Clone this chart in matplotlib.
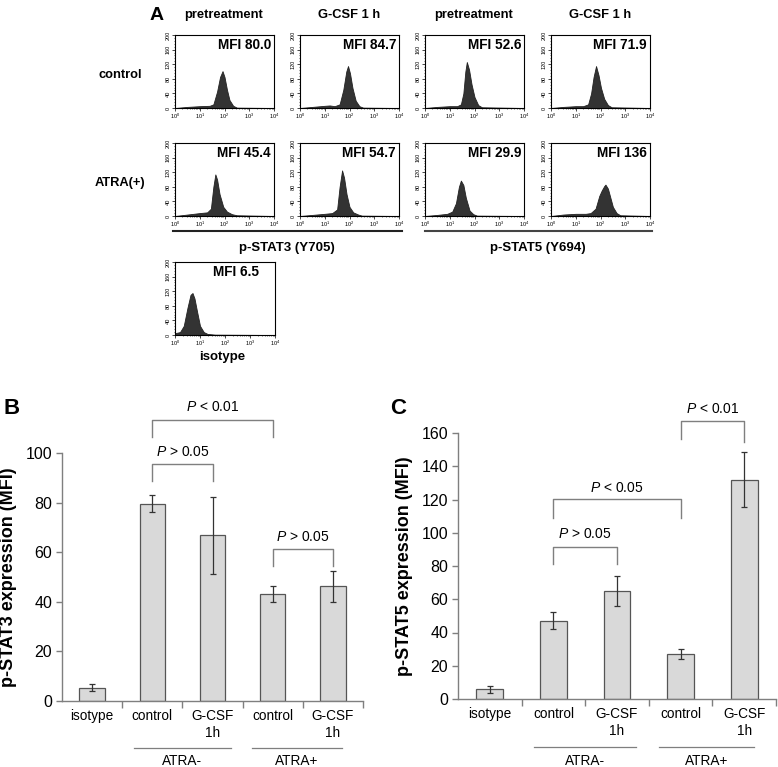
import numpy as np
import matplotlib
matplotlib.use("Agg")
import matplotlib.pyplot as plt
from matplotlib.ticker import MultipleLocator, FixedLocator, NullFormatter

plt.rcParams['font.family'] = ['Liberation Sans', 'DejaVu Sans']
plt.rcParams['mathtext.fontset'] = 'custom'
plt.rcParams['mathtext.rm'] = 'Liberation Sans'
plt.rcParams['mathtext.it'] = 'Liberation Sans:italic'

W, H = 778, 767

# ---------------- panel A: flow histograms (log10 intensity, counts) ----------------
hist_titles = ["pretreatment", "G-CSF 1 h", "pretreatment", "G-CSF 1 h"]
row_names = ["control", "ATRA(+)"]

ctrl_pre_s3_x = [0.0, 0.5, 1.0, 1.4, 1.55, 1.7, 1.82, 1.92, 2.0, 2.1, 2.2, 2.35, 2.5, 4.0]
ctrl_pre_s3_y = [0, 3, 5, 6, 10, 45, 85, 101, 85, 50, 22, 6, 1, 0]
ctrl_gcsf_s3_x = [0.0, 0.5, 1.0, 1.2, 1.4, 1.6, 1.75, 1.87, 1.94, 2.02, 2.12, 2.25, 2.4, 2.55, 4.0]
ctrl_gcsf_s3_y = [0, 3, 6, 7, 5, 10, 50, 100, 115, 95, 55, 20, 5, 1, 0]
ctrl_pre_s5_x = [0.0, 0.5, 1.0, 1.3, 1.45, 1.55, 1.63, 1.69, 1.78, 1.88, 2.0, 2.15, 2.3, 4.0]
ctrl_pre_s5_y = [0, 3, 5, 5, 10, 40, 100, 126, 105, 65, 30, 8, 2, 0]
ctrl_gcsf_s5_x = [0.0, 0.5, 1.0, 1.3, 1.5, 1.62, 1.72, 1.82, 1.92, 2.02, 2.15, 2.3, 2.45, 4.0]
ctrl_gcsf_s5_y = [0, 3, 5, 5, 10, 40, 85, 115, 90, 55, 25, 8, 2, 0]
atra_pre_s3_x = [0.0, 0.5, 1.0, 1.3, 1.45, 1.55, 1.63, 1.7, 1.8, 1.95, 2.1, 2.3, 2.5, 4.0]
atra_pre_s3_y = [0, 4, 8, 10, 20, 80, 114, 100, 60, 25, 12, 5, 2, 0]
atra_gcsf_s3_x = [0.0, 0.5, 1.0, 1.3, 1.5, 1.6, 1.7, 1.78, 1.88, 2.0, 2.15, 2.35, 2.5, 4.0]
atra_gcsf_s3_y = [0, 3, 6, 8, 18, 80, 125, 105, 60, 25, 10, 4, 1, 0]
atra_pre_s5_x = [0.0, 0.5, 0.9, 1.1, 1.25, 1.37, 1.45, 1.55, 1.65, 1.8, 1.95, 2.1, 4.0]
atra_pre_s5_y = [0, 3, 6, 12, 35, 80, 97, 85, 50, 15, 5, 1, 0]
atra_gcsf_s5_x = [0.0, 0.5, 1.0, 1.4, 1.6, 1.8, 1.95, 2.05, 2.15, 2.2, 2.3, 2.4, 2.5, 2.65, 2.8, 4.0]
atra_gcsf_s5_y = [0, 4, 6, 6, 8, 20, 55, 70, 82, 86, 75, 50, 25, 8, 2, 0]
isotype_x = [0.0, 0.2, 0.35, 0.5, 0.62, 0.7, 0.78, 0.88, 1.0, 1.15, 1.3, 1.6, 4.0]
isotype_y = [5, 8, 25, 75, 110, 115, 100, 65, 25, 8, 3, 1, 0]

mfi_labels = ["MFI 80.0", "MFI 84.7", "MFI 52.6", "MFI 71.9",
              "MFI 45.4", "MFI 54.7", "MFI 29.9", "MFI 136"]

# ---------------- panel B / C: bar data ----------------
categories = ["isotype", "control", "G-CSF\n1h", "control", "G-CSF\n1h"]
stat3_mean = [5.4, 79.5, 66.9, 43.3, 46.2]
stat3_err = [1.5, 3.4, 15.5, 3.2, 6.2]
stat5_mean = [5.8, 47.2, 65.0, 26.9, 132.0]
stat5_err = [1.9, 5.2, 9.0, 3.1, 16.5]

fig = plt.figure(figsize=(W / 100, H / 100), dpi=100)


def px_axes(left, top, width, height):
    return fig.add_axes([left / W, 1 - (top + height) / H, width / W, height / H])


def hist_panel(ax, xs, ys, label, lx=0.97, ha='right'):
    ax.fill_between(10 ** np.array(xs), ys, color='#333333', lw=0.6, edgecolor='#222222')
    ax.set_xscale('log')
    ax.set_xlim(1, 1e4)
    ax.set_ylim(0, 200)
    ax.yaxis.set_major_locator(FixedLocator([0, 40, 80, 120, 160, 200]))
    ax.yaxis.set_minor_locator(MultipleLocator(8))
    ax.tick_params(labelsize=4, length=2, width=0.5, pad=1)
    ax.tick_params(which='minor', length=1, width=0.4)
    for t in ax.get_yticklabels():
        t.set_rotation(90)
        t.set_va('center')
    for s in ax.spines.values():
        s.set_linewidth(0.8)
    ax.text(lx, 0.96, label, transform=ax.transAxes, ha=ha, va='top',
            fontsize=9.8, fontweight='bold')


col_left = [175, 300, 425, 551]
row_top = [35, 143]
hist_data = [(ctrl_pre_s3_x, ctrl_pre_s3_y), (ctrl_gcsf_s3_x, ctrl_gcsf_s3_y),
             (ctrl_pre_s5_x, ctrl_pre_s5_y), (ctrl_gcsf_s5_x, ctrl_gcsf_s5_y),
             (atra_pre_s3_x, atra_pre_s3_y), (atra_gcsf_s3_x, atra_gcsf_s3_y),
             (atra_pre_s5_x, atra_pre_s5_y), (atra_gcsf_s5_x, atra_gcsf_s5_y)]

for r in range(2):
    for c in range(4):
        ax = px_axes(col_left[c], row_top[r], 99, 73)
        xs, ys = hist_data[r * 4 + c]
        hist_panel(ax, xs, ys, mfi_labels[r * 4 + c])

ax_iso = px_axes(175, 262, 100, 73)
hist_panel(ax_iso, isotype_x, isotype_y, "MFI 6.5", lx=0.61, ha='center')

for c in range(4):
    fig.text((col_left[c] + 49) / W, 1 - 15 / H, hist_titles[c], ha='center', va='center',
             fontsize=9.3, fontweight='bold')
fig.text(120 / W, 1 - 75 / H, row_names[0], ha='center', va='center', fontsize=9.3, fontweight='bold')
fig.text(120 / W, 1 - 183 / H, row_names[1], ha='center', va='center', fontsize=9.3, fontweight='bold')
fig.text(157 / W, 1 - 15 / H, "A", ha='center', va='center', fontsize=14, fontweight='bold')

fig.add_artist(plt.Line2D([173 / W, 402 / W], [1 - 231 / H] * 2, color='#222222', lw=1.5))
fig.add_artist(plt.Line2D([425 / W, 652 / W], [1 - 231 / H] * 2, color='#444444', lw=1.5))
fig.text(287 / W, 1 - 248 / H, "p-STAT3 (Y705)", ha='center', va='center', fontsize=9.5, fontweight='bold')
fig.text(538 / W, 1 - 248 / H, "p-STAT5 (Y694)", ha='center', va='center', fontsize=9.5, fontweight='bold')
fig.text(222 / W, 1 - 357 / H, "isotype", ha='center', va='center', fontsize=9.5, fontweight='bold')

# ---------------- bar panels ----------------
gray = '#7f7f7f'


def bar_panel(ax, means, errs, ymax, ystep, ylabel, brackets, groups, group_y):
    x = np.arange(len(categories))
    ax.bar(x, means, width=0.42, color='#d9d9d9', edgecolor='#555555', linewidth=0.9)
    ax.errorbar(x, means, yerr=errs, fmt='none', ecolor='#333333', elinewidth=0.9,
                capsize=2.5, capthick=0.9)
    ax.set_xlim(-0.5, 4.5)
    ax.set_ylim(0, ymax)
    ax.spines['top'].set_visible(False)
    ax.spines['right'].set_visible(False)
    for s in ['left', 'bottom']:
        ax.spines[s].set_color(gray)
        ax.spines[s].set_linewidth(1.0)
    ax.yaxis.set_major_locator(MultipleLocator(ystep))
    ax.set_xticks(x)
    ax.set_xticklabels(categories, fontsize=9.8)
    ax.set_xticks([0.5, 1.5, 2.5, 3.5, 4.5], minor=True)
    ax.tick_params(axis='x', which='major', length=0, pad=6)
    ax.tick_params(axis='x', which='minor', length=5, color=gray, width=1.0)
    ax.tick_params(axis='y', labelsize=11.5, length=4, color=gray, width=1.0, pad=3)
    ax.set_ylabel(ylabel, fontsize=13, fontweight='bold', labelpad=6)
    for x0, x1, yh, yl0, yl1, ty, txt in brackets:
        ax.plot([x0, x0, x1, x1], [yl0, yh, yh, yl1], color=gray, lw=1.0, clip_on=False)
        sign = txt.split()[0]
        ax.text((x0 + x1) / 2, ty, r'$\it{P}$ ' + sign + ' ' + txt.split()[1],
                ha='center', va='center', fontsize=10)
    for (g0, g1), name in zip(groups, ["ATRA-", "ATRA+"]):
        ax.plot([g0, g1], [group_y[0]] * 2, color=gray, lw=0.9,
                transform=ax.get_xaxis_transform(), clip_on=False)
        ax.text((g0 + g1) / 2, group_y[1], name, ha='center', va='center', fontsize=9.8,
                transform=ax.get_xaxis_transform())


ax_b = px_axes(62, 453, 301, 248)
bar_panel(ax_b, stat3_mean, stat3_err, 100, 20, "p-STAT3 expression (MFI)",
          [(1, 3, 113.5, 106.5, 106.5, 118.5, "< 0.01"),
           (1, 2, 95.7, 88.8, 88.8, 100.5, "> 0.05"),
           (3, 4, 61.2, 54.6, 54.6, 66.0, "> 0.05")],
          [(0.7, 2.3), (2.66, 4.15)], (-0.19, -0.242))

ax_c = px_axes(458, 433, 318, 266)
bar_panel(ax_c, stat5_mean, stat5_err, 160, 20, "p-STAT5 expression (MFI)",
          [(3, 4, 167.0, 156.4, 154.4, 174.5, "< 0.01"),
           (1, 3, 120.5, 108.8, 108.8, 127.0, "< 0.05"),
           (1, 2, 91.2, 81.1, 81.1, 99.2, "> 0.05")],
          [(0.7, 2.3), (2.66, 4.15)], (-0.18, -0.233))

fig.text(12 / W, 1 - 408 / H, "B", ha='center', va='center', fontsize=16, fontweight='bold')
fig.text(398 / W, 1 - 408 / H, "C", ha='center', va='center', fontsize=16, fontweight='bold')

fig.savefig("out.png", dpi=100)
